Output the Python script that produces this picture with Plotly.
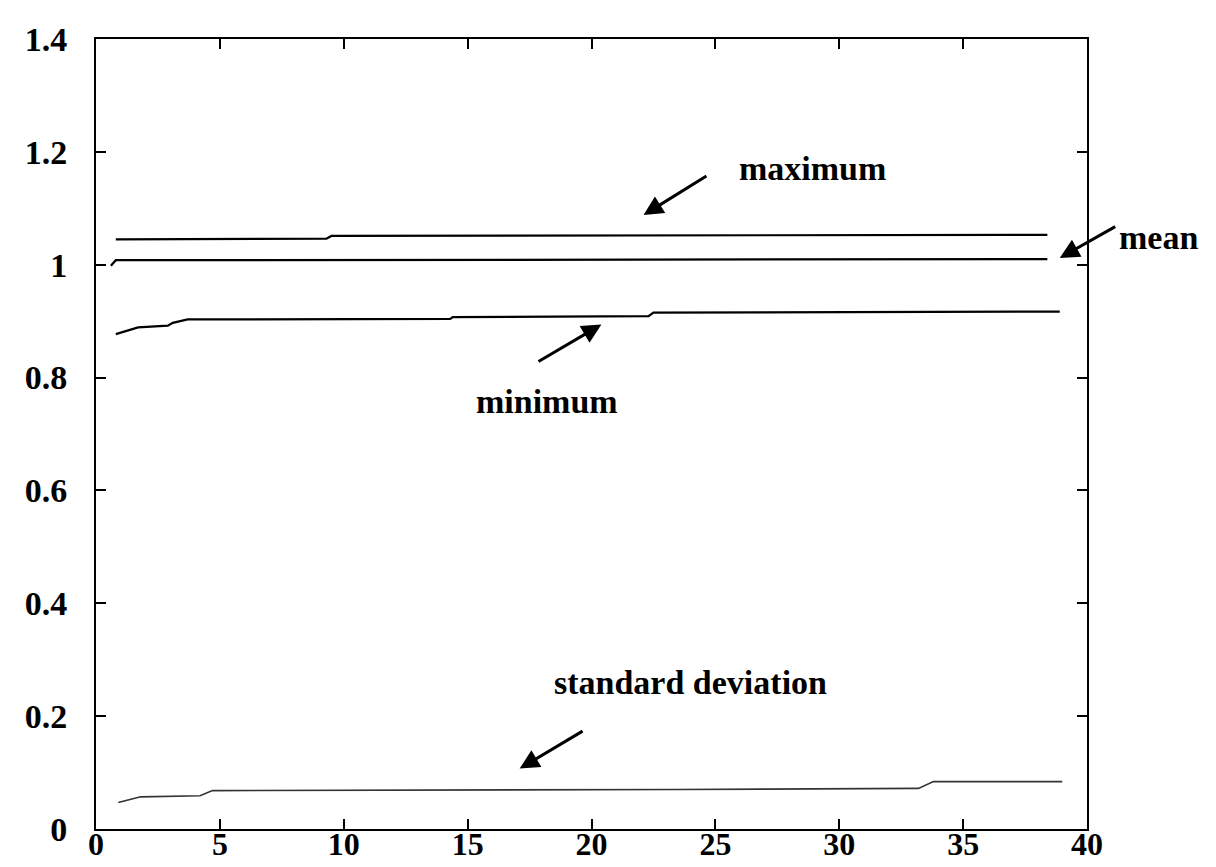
import plotly.graph_objects as go

# ---- data ----
max_x = [0.8, 9.3, 9.5, 38.4]
max_y = [1.045, 1.046, 1.051, 1.053]

mean_x = [0.6, 0.8, 5.0, 20.0, 38.4]
mean_y = [0.998, 1.008, 1.008, 1.009, 1.010]

min_x = [0.8, 1.7, 2.9, 3.1, 3.7, 14.3, 14.4, 22.3, 22.5, 38.9]
min_y = [0.877, 0.889, 0.892, 0.897, 0.903, 0.904, 0.907, 0.909, 0.915, 0.917]

std_x = [0.9, 1.8, 4.2, 4.7, 23.5, 33.2, 33.8, 39.0]
std_y = [0.047, 0.057, 0.059, 0.068, 0.070, 0.072, 0.084, 0.084]

x_ticks = [0, 5, 10, 15, 20, 25, 30, 35, 40]
y_ticks = [0, 0.2, 0.4, 0.6, 0.8, 1.0, 1.2, 1.4]
y_tick_labels = ["0", "0.2", "0.4", "0.6", "0.8", "1", "1.2", "1.4"]

labels = ["maximum", "mean", "minimum", "standard deviation"]
# label positions in data coords (mean lies right of the plot, so given in paper coords)
label_pos = [(28.9, 1.171), (1.072, 1.049), (18.2, 0.757), (24.0, 0.259)]
label_xref = ["x", "paper", "x", "x"]
arrow_head = [(22.1, 1.088), (38.9, 1.012), (20.4, 0.894), (17.1, 0.107)]
arrow_tail = [(24.7, 1.159), (41.2, 1.069), (17.8, 0.827), (19.7, 0.175)]

FONT = "Liberation Serif, Times New Roman, serif"

fig = go.Figure()
fig.add_trace(go.Scatter(x=max_x, y=max_y, mode="lines", line=dict(color="black", width=2.2)))
fig.add_trace(go.Scatter(x=mean_x, y=mean_y, mode="lines", line=dict(color="black", width=2.2)))
fig.add_trace(go.Scatter(x=min_x, y=min_y, mode="lines", line=dict(color="black", width=2.2)))
fig.add_trace(go.Scatter(x=std_x, y=std_y, mode="lines", line=dict(color="#333333", width=1.6)))

for txt, (tx, ty), xr, (hx, hy), (sx, sy) in zip(labels, label_pos, label_xref, arrow_head, arrow_tail):
    fig.add_annotation(x=tx, y=ty, xref=xr, yref="y", text=txt, showarrow=False,
                       xanchor="center", yanchor="middle",
                       font=dict(family=FONT, size=34, color="black", weight="bold"))
    fig.add_annotation(x=hx, y=hy, ax=sx, ay=sy, xref="x", yref="y", axref="x", ayref="y",
                       text="", showarrow=True, arrowhead=2, arrowsize=1.3, arrowwidth=3,
                       arrowcolor="black")

axis_common = dict(showgrid=False, zeroline=False, showline=True, linecolor="black", linewidth=2,
                   mirror="ticks", ticks="inside", ticklen=10, tickwidth=2, tickcolor="black",
                   automargin=False)

fig.update_xaxes(range=[0, 40], tickvals=x_ticks, ticktext=[str(v) for v in x_ticks],
                 ticklabelstandoff=-14,
                 tickfont=dict(family=FONT, size=32, color="black", weight="bold"),
                 **axis_common)
fig.update_yaxes(range=[0, 1.4], tickvals=y_ticks, ticktext=y_tick_labels,
                 ticklabelstandoff=20,
                 tickfont=dict(family=FONT, size=34, color="black", weight="bold"),
                 **axis_common)

fig.update_layout(width=1216, height=867, showlegend=False,
                  paper_bgcolor="white", plot_bgcolor="white",
                  margin=dict(l=88, r=137, t=31, b=46))

fig.write_html("out.html")
